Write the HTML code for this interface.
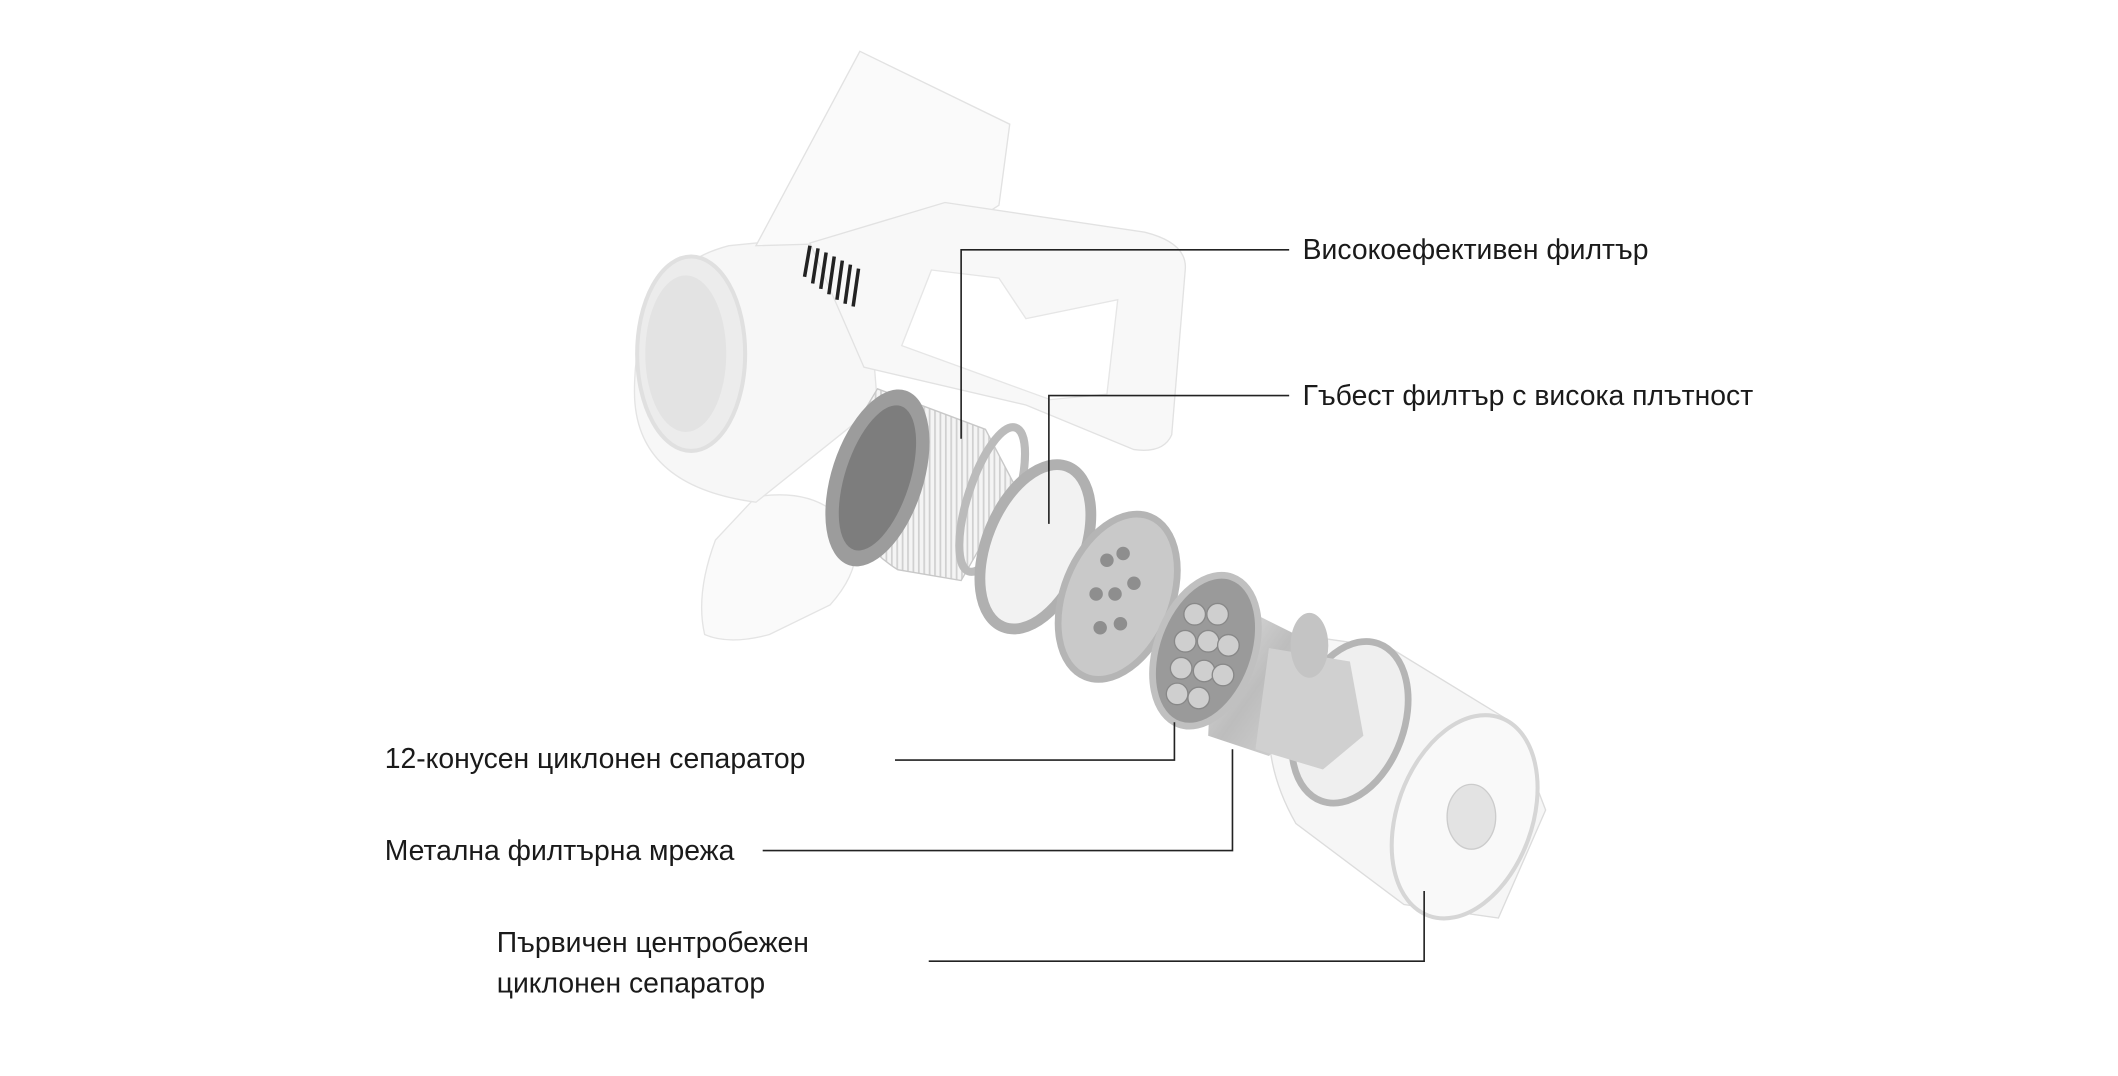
<!DOCTYPE html>
<html><head><meta charset="utf-8"><style>
html,body{margin:0;padding:0;background:#fff;}
svg{display:block;}
text{font-family:"Liberation Sans",sans-serif;font-size:21px;fill:#1a1a1a;}
</style></head><body>
<svg width="2118" height="1076" viewBox="0 0 1569 797" preserveAspectRatio="none" xmlns="http://www.w3.org/2000/svg">
<defs>
<linearGradient id="metal" x1="0" y1="0" x2="1" y2="1">
<stop offset="0" stop-color="#e6e6e6"/><stop offset="0.5" stop-color="#bdbdbd"/><stop offset="1" stop-color="#d9d9d9"/></linearGradient>
<pattern id="pleat" width="4" height="10" patternUnits="userSpaceOnUse"><rect width="4" height="10" fill="#f4f4f4"/><rect width="1.3" height="10" fill="#d0d0d0"/></pattern>
</defs>
<rect width="1569" height="797" fill="#fff"/>
<!-- wand -->
<path d="M560,368 Q610,360 632,395 Q640,420 615,448 L570,470 Q540,478 522,470 Q515,440 530,400 Z" fill="#fafafa" stroke="#e4e4e4"/>
<!-- motor cylinder -->
<path d="M540,182 L640,172 L650,300 L560,372 Q470,360 470,290 Q470,200 540,182 Z" fill="#f7f7f7" stroke="#e4e4e4"/>
<ellipse cx="512" cy="262" rx="40" ry="72" fill="#ececec" stroke="#e0e0e0" stroke-width="3"/>
<ellipse cx="508" cy="262" rx="30" ry="58" fill="#e3e3e3"/>
<!-- head -->
<path d="M637,38 L748,92 L740,152 L700,178 L560,182 Z" fill="#fafafa" stroke="#e2e2e2"/>
<!-- grip frame -->
<path d="M700,150 L848,172 Q880,180 878,200 L868,322 Q862,336 840,333 L760,300 L640,272 L600,180 Z" fill="#f8f8f8" stroke="#e2e2e2"/>
<path d="M690,200 L740,206 L760,236 L828,222 L820,292 L778,296 L668,256 Z" fill="#fff" stroke="#e6e6e6"/>
<!-- vent -->
<g stroke="#222" stroke-width="2.6">
<line x1="600" y1="182" x2="596" y2="205"/><line x1="606" y1="184" x2="602" y2="210"/><line x1="612" y1="187" x2="608" y2="214"/>
<line x1="618" y1="190" x2="614" y2="218"/><line x1="624" y1="193" x2="620" y2="222"/><line x1="630" y1="196" x2="626" y2="225"/><line x1="636" y1="199" x2="632" y2="227"/>
</g>
<!-- HEPA filter -->
<path d="M650,288 L730,318 L752,360 L712,430 L665,422 Q615,390 625,330 Z" fill="url(#pleat)" stroke="#c8c8c8"/>
<ellipse cx="650" cy="354" rx="34" ry="68" transform="rotate(18 650 354)" fill="#9c9c9c"/>
<ellipse cx="650" cy="354" rx="24" ry="56" transform="rotate(18 650 354)" fill="#7d7d7d"/>
<ellipse cx="735" cy="370" rx="18" ry="56" transform="rotate(18 735 370)" fill="none" stroke="#bbb" stroke-width="6"/>
<!-- foam disc -->
<ellipse cx="767" cy="405" rx="36" ry="64" transform="rotate(22 767 405)" fill="#f2f2f2" stroke="#b0b0b0" stroke-width="8"/>
<!-- holed disc -->
<ellipse cx="828" cy="442" rx="40" ry="64" transform="rotate(22 828 442)" fill="#c9c9c9" stroke="#b5b5b5" stroke-width="5"/>
<g fill="#8e8e8e"><circle cx="820" cy="415" r="5"/><circle cx="832" cy="410" r="5"/><circle cx="812" cy="440" r="5"/><circle cx="826" cy="440" r="5"/><circle cx="840" cy="432" r="5"/><circle cx="815" cy="465" r="5"/><circle cx="830" cy="462" r="5"/></g>
<!-- primary bin -->
<path d="M960,470 L1030,480 L1120,535 L1145,600 L1110,680 L1040,670 L960,610 Q920,540 960,470 Z" fill="#f6f6f6" stroke="#dcdcdc"/>
<ellipse cx="1085" cy="605" rx="50" ry="78" transform="rotate(20 1085 605)" fill="#f9f9f9" stroke="#d6d6d6" stroke-width="3"/>
<ellipse cx="1090" cy="605" rx="18" ry="24" fill="#e3e3e3" stroke="#ccc"/>
<ellipse cx="1000" cy="535" rx="40" ry="62" transform="rotate(20 1000 535)" fill="#efefef" stroke="#b5b5b5" stroke-width="5"/>
<!-- metal mesh + cone -->
<path d="M900,440 L960,470 L980,520 L940,560 L895,545 Z" fill="url(#metal)"/>
<path d="M940,480 L1000,490 L1010,545 L980,570 L930,555 Z" fill="#d0d0d0"/>
<ellipse cx="970" cy="478" rx="14" ry="24" fill="#c4c4c4"/>
<ellipse cx="893" cy="482" rx="36" ry="58" transform="rotate(20 893 482)" fill="#9a9a9a" stroke="#c0c0c0" stroke-width="5"/>
<g fill="#cfcfcf" stroke="#888"><circle cx="885" cy="455" r="8"/><circle cx="902" cy="455" r="8"/><circle cx="878" cy="475" r="8"/><circle cx="895" cy="475" r="8"/><circle cx="910" cy="478" r="8"/><circle cx="875" cy="495" r="8"/><circle cx="892" cy="497" r="8"/><circle cx="906" cy="500" r="8"/><circle cx="872" cy="514" r="8"/><circle cx="888" cy="517" r="8"/></g>
<!-- leader lines -->
<g stroke="#222" stroke-width="1.2" fill="none">
<polyline points="712,325 712,185 955,185"/>
<polyline points="777,388 777,293 955,293"/>
<polyline points="870,535 870,563 663,563"/>
<polyline points="913,555 913,630 565,630"/>
<polyline points="1055,660 1055,712 688,712"/>
</g>
<text x="965" y="192">Високоефективен филтър</text>
<text x="965" y="300">Гъбест филтър с висока плътност</text>
<text x="285" y="569">12-конусен циклонен сепаратор</text>
<text x="285" y="637">Метална филтърна мрежа</text>
<text x="368" y="705">Първичен центробежен</text>
<text x="368" y="735">циклонен сепаратор</text>
</svg>
</body></html>
